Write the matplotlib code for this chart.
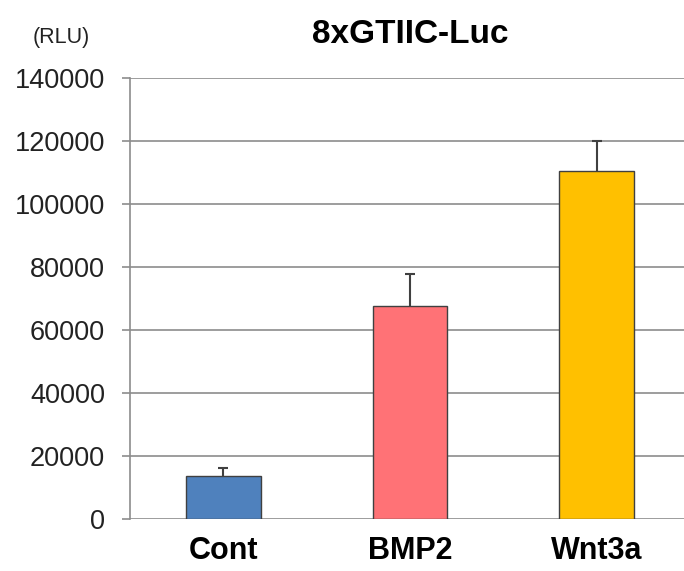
import numpy as np
import matplotlib.pyplot as plt

# Data luciferase (RLU)
groups = ['Cont', 'BMP2', 'Wnt3a']
means = [13600, 67600, 110500]
errors = [2500, 10200, 9500]
colors = ['#4F81BD', '#FF7276', '#FFC000']

plt.rcParams['font.family'] = ['Liberation Sans', 'DejaVu Sans']

fig = plt.figure(figsize=(6.84, 5.71), dpi=100)
ax = fig.add_axes([130 / 684, 52 / 571, 560 / 684, 441 / 571])

x = np.arange(len(groups))
ax.bar(x, means, width=0.4, color=colors, edgecolor='#404040', linewidth=1.0, zorder=3)
_, caps, _ = ax.errorbar(x, means, yerr=[np.zeros(len(errors)), errors], fmt='none',
                         ecolor='#404040', elinewidth=1.5, capsize=3.3, capthick=1.5, zorder=4)
# hanya error bar atas, cap bawah disembunyikan
caps[0].set_visible(False)

ax.set_xlim(-0.5, 2.5)
ax.set_ylim(0, 140000)
ax.set_yticks(np.arange(0, 140001, 20000))
ax.yaxis.grid(True, color='#8c8c8c', linewidth=1.2, zorder=0)
ax.set_axisbelow(True)

ax.set_xticks(x)
ax.set_xticklabels(groups, fontsize=22, fontweight='bold')
ax.tick_params(axis='x', length=0, pad=12)
ax.tick_params(axis='y', labelsize=19.5, length=6, width=1.2, color='#8c8c8c',
               pad=12, labelcolor='#222222')

for side in ['top', 'right', 'bottom']:
    ax.spines[side].set_visible(False)
ax.spines['left'].set_color('#8c8c8c')
ax.spines['left'].set_linewidth(1.2)

ax.set_title('8xGTIIC-Luc', fontsize=24, fontweight='bold', pad=25)
fig.text(61 / 684, 1 - 38 / 571, '(RLU)', fontsize=15.5, ha='center', va='center', color='#222222')

fig.savefig('out.png', dpi=100)
